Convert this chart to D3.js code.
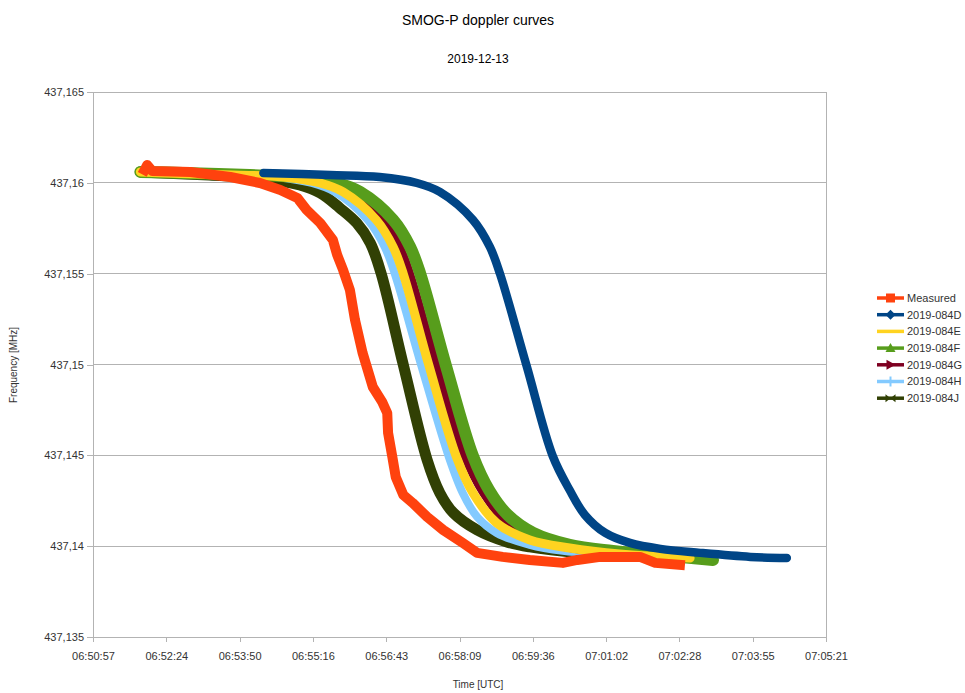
<!DOCTYPE html>
<html>
<head>
<meta charset="utf-8">
<script src="https://cdn.jsdelivr.net/npm/d3@7/dist/d3.min.js"></script>
<style>
  body { margin: 0; background: #ffffff; }
  text { font-family: "Liberation Sans", Arial, sans-serif; }
</style>
</head>
<body>
<svg id="chart" width="965" height="693"></svg>
<script>
// ---- chart text ----
const chartTitle = "SMOG-P doppler curves";
const chartSubtitle = "2019-12-13";
const xAxisTitle = "Time [UTC]";
const yAxisTitle = "Frequency [MHz]";

// ---- axes (time axis in fractions of a day, like the spreadsheet) ----
const xAxisStartDays = 0.285384;
const xAxisStepDays = 0.001;
const xTickLabels = ["06:50:57", "06:52:24", "06:53:50", "06:55:16", "06:56:43", "06:58:09",
                     "06:59:36", "07:01:02", "07:02:28", "07:03:55", "07:05:21"];
const yTickValues = [437.135, 437.14, 437.145, 437.15, 437.155, 437.16, 437.165];
const yTickLabels = ["437,135", "437,14", "437,145", "437,15", "437,155", "437,16", "437,165"];

// ---- series: [UTC time, frequency MHz] ----
const seriesNames = ["Measured", "2019-084D", "2019-084E", "2019-084F", "2019-084G", "2019-084H", "2019-084J"];

const measured = [
  ["06:51:58", 437.16071], ["06:52:01", 437.16098], ["06:52:07", 437.16065], ["06:52:52", 437.16060],
  ["06:53:39", 437.16032], ["06:54:14", 437.15999], ["06:54:38", 437.15961], ["06:54:58", 437.15917],
  ["06:55:09", 437.15851], ["06:55:25", 437.15779], ["06:55:40", 437.15685], ["06:55:45", 437.15603],
  ["06:55:52", 437.15520], ["06:56:00", 437.15410], ["06:56:06", 437.15245], ["06:56:15", 437.15063],
  ["06:56:27", 437.14876], ["06:56:38", 437.14794], ["06:56:44", 437.14733], ["06:56:45", 437.14623],
  ["06:56:50", 437.14491], ["06:56:54", 437.14381], ["06:57:03", 437.14282], ["06:57:14", 437.14238],
  ["06:57:31", 437.14161], ["06:57:50", 437.14089], ["06:58:13", 437.14018], ["06:58:30", 437.13963],
  ["06:59:00", 437.13941], ["06:59:32", 437.13924], ["07:00:11", 437.13908], ["07:00:28", 437.13924],
  ["07:00:55", 437.13941], ["07:01:42", 437.13941], ["07:02:00", 437.13908], ["07:02:29", 437.13897]
];

const sat084D = [
  ["06:54:18", 437.16054], ["06:55:37", 437.16043], ["06:56:35", 437.16032], ["06:57:19", 437.15999],
  ["06:57:46", 437.15950], ["06:58:25", 437.15796], ["06:58:45", 437.15647], ["06:58:57", 437.15498],
  ["06:59:28", 437.14997], ["06:59:59", 437.14497], ["07:00:19", 437.14309], ["07:00:37", 437.14172],
  ["07:01:01", 437.14073], ["07:01:30", 437.14018], ["07:02:06", 437.13985], ["07:02:53", 437.13963],
  ["07:03:52", 437.13941], ["07:04:35", 437.13935]
];

const sat084E = [
  ["06:51:53", 437.16060], ["06:52:23", 437.16054], ["06:53:42", 437.16043], ["06:54:41", 437.16032],
  ["06:55:25", 437.15999], ["06:55:52", 437.15950], ["06:56:31", 437.15796], ["06:56:51", 437.15647],
  ["06:57:03", 437.15498], ["06:57:33", 437.14997], ["06:58:06", 437.14486], ["06:58:25", 437.14293],
  ["06:58:53", 437.14128], ["06:59:32", 437.14034], ["07:00:19", 437.13990], ["07:01:18", 437.13957],
  ["07:02:41", 437.13935]
];

const sat084F = [
  ["06:51:53", 437.16060], ["06:52:43", 437.16054], ["06:54:02", 437.16043], ["06:55:01", 437.16032],
  ["06:55:45", 437.15999], ["06:56:12", 437.15950], ["06:56:51", 437.15796], ["06:57:11", 437.15647],
  ["06:57:23", 437.15498], ["06:57:53", 437.14997], ["06:58:25", 437.14497], ["06:58:44", 437.14309],
  ["06:59:06", 437.14172], ["06:59:36", 437.14073], ["07:00:19", 437.14007], ["07:01:10", 437.13974],
  ["07:02:17", 437.13946], ["07:03:08", 437.13924]
];

const sat084G = [
  ["06:51:53", 437.16060], ["06:52:32", 437.16054], ["06:53:50", 437.16043], ["06:54:49", 437.16032],
  ["06:55:33", 437.15999], ["06:56:00", 437.15950], ["06:56:39", 437.15796], ["06:56:59", 437.15647],
  ["06:57:11", 437.15498], ["06:57:42", 437.14997], ["06:58:15", 437.14497], ["06:58:37", 437.14293],
  ["06:59:05", 437.14128], ["06:59:38", 437.14034], ["07:00:19", 437.13990], ["07:01:18", 437.13957],
  ["07:02:06", 437.13941]
];

const sat084H = [
  ["06:51:53", 437.16060], ["06:52:14", 437.16054], ["06:53:33", 437.16043], ["06:54:32", 437.16032],
  ["06:55:15", 437.15999], ["06:55:42", 437.15950], ["06:56:21", 437.15796], ["06:56:41", 437.15647],
  ["06:56:53", 437.15498], ["06:57:24", 437.14997], ["06:57:57", 437.14486], ["06:58:13", 437.14293],
  ["06:58:30", 437.14161], ["06:58:53", 437.14073], ["06:59:32", 437.14007], ["07:00:11", 437.13974],
  ["07:01:42", 437.13941]
];

const sat084J = [
  ["06:51:53", 437.16060], ["06:53:14", 437.16043], ["06:54:13", 437.16027], ["06:55:01", 437.15988],
  ["06:55:25", 437.15944], ["06:55:48", 437.15862], ["06:56:08", 437.15779], ["06:56:24", 437.15669],
  ["06:56:37", 437.15498], ["06:57:03", 437.14997], ["06:57:31", 437.14475], ["06:57:46", 437.14293],
  ["06:58:02", 437.14183], ["06:58:30", 437.14089], ["06:59:05", 437.14023], ["06:59:32", 437.13996],
  ["07:00:31", 437.13963], ["07:01:24", 437.13946]
];

const seriesData = [measured, sat084D, sat084E, sat084F, sat084G, sat084H, sat084J];

// ---- styling ----
const seriesColors = ["#ff420e", "#004586", "#ffd320", "#579d1c", "#7e0021", "#83caff", "#314004"];
const seriesWidths = [10, 8.5, 9, 12, 8, 8, 11];
const seriesMarkers = ["square", "diamond", "none", "triangle", "arrow", "plus", "cross"];

const plot = { left: 93, right: 826, top: 92, bottom: 637 };
const gridColor = "#b3b3b3";
const textColor = "#333333";

const toSeconds = s => {
  const [h, m, sec] = s.split(":").map(Number);
  return h * 3600 + m * 60 + sec;
};

const svg = d3.select("#chart");

const xStart = xAxisStartDays * 86400;
const xStep = xAxisStepDays * 86400;
const xTickValues = xTickLabels.map((_, i) => xStart + i * xStep);

const x = d3.scaleLinear()
  .domain([xStart, xStart + xStep * (xTickLabels.length - 1)])
  .range([plot.left, plot.right]);

const y = d3.scaleLinear()
  .domain([yTickValues[0], yTickValues[yTickValues.length - 1]])
  .range([plot.bottom, plot.top]);

// titles
svg.append("text").attr("x", 478).attr("y", 25).attr("text-anchor", "middle")
  .attr("font-size", 14).attr("fill", "#000").text(chartTitle);
svg.append("text").attr("x", 478).attr("y", 63).attr("text-anchor", "middle")
  .attr("font-size", 12).attr("fill", "#000").text(chartSubtitle);

// horizontal grid
svg.append("g")
  .selectAll("line").data(yTickValues).join("line")
  .attr("x1", plot.left).attr("x2", plot.right)
  .attr("y1", d => y(d)).attr("y2", d => y(d))
  .attr("stroke", gridColor).attr("stroke-width", 1)
  .attr("shape-rendering", "crispEdges");

// frame on the right side
svg.append("line")
  .attr("x1", plot.right).attr("x2", plot.right)
  .attr("y1", plot.top).attr("y2", plot.bottom)
  .attr("stroke", gridColor).attr("shape-rendering", "crispEdges");

// y axis
const yAxis = d3.axisLeft(y)
  .tickValues(yTickValues)
  .tickFormat((d, i) => yTickLabels[i])
  .tickSize(6).tickSizeOuter(0).tickPadding(3);
const gy = svg.append("g").attr("transform", `translate(${plot.left},0)`).call(yAxis);
gy.select(".domain").attr("stroke", gridColor).attr("shape-rendering", "crispEdges");
gy.selectAll(".tick line").attr("stroke", gridColor).attr("shape-rendering", "crispEdges");
gy.selectAll(".tick text").attr("font-size", 11).attr("fill", textColor)
  .attr("font-family", "Liberation Sans, Arial, sans-serif");

// x axis
const xAxis = d3.axisBottom(x)
  .tickValues(xTickValues)
  .tickFormat((d, i) => xTickLabels[i])
  .tickSize(5).tickSizeOuter(0).tickPadding(10);
const gx = svg.append("g").attr("transform", `translate(0,${plot.bottom})`).call(xAxis);
gx.select(".domain").attr("stroke", gridColor).attr("shape-rendering", "crispEdges");
gx.selectAll(".tick line").attr("stroke", gridColor).attr("shape-rendering", "crispEdges");
gx.selectAll(".tick text").attr("font-size", 11).attr("fill", textColor)
  .attr("font-family", "Liberation Sans, Arial, sans-serif");

// axis titles
svg.append("text").attr("x", 478).attr("y", 688).attr("text-anchor", "middle")
  .attr("font-size", 10).attr("fill", textColor).text(xAxisTitle);
svg.append("text").attr("transform", "translate(17,365) rotate(-90)").attr("text-anchor", "middle")
  .attr("font-size", 10).attr("fill", textColor).text(yAxisTitle);

// curves: later satellites first, measured on top
const lineMeasured = d3.line()
  .x(d => x(toSeconds(d[0]))).y(d => y(d[1]));
const lineModel = d3.line()
  .x(d => x(toSeconds(d[0]))).y(d => y(d[1]))
  .curve(d3.curveCatmullRom.alpha(0.5));

const drawOrder = [6, 5, 4, 3, 2, 1, 0];
const curves = svg.append("g");
drawOrder.forEach(i => {
  curves.append("path")
    .datum(seriesData[i])
    .attr("fill", "none")
    .attr("stroke", seriesColors[i])
    .attr("stroke-width", seriesWidths[i])
    .attr("stroke-linejoin", "round")
    .attr("stroke-linecap", i === 0 ? "square" : "round")
    .attr("d", i === 0 ? lineMeasured : lineModel);
});

// legend
const legend = svg.append("g").attr("transform", "translate(877,298)");
const markerPath = (kind) => {
  switch (kind) {
    case "square":   return "M-4.5,-4.5h9v9h-9z";
    case "diamond":  return "M0,-5L5,0L0,5L-5,0z";
    case "triangle": return "M0,-5L5,4H-5z";
    case "arrow":    return "M-4,-5L5,0L-4,5z";
    case "plus":     return "M-1,-5h2v10h-2z";
    case "cross":    return "M-5,-4L0,0L-5,4zM5,-4L0,0L5,4z";
    default:         return null;
  }
};
seriesNames.forEach((name, i) => {
  const g = legend.append("g").attr("transform", `translate(0,${i * 16.7})`);
  g.append("line").attr("x1", 0).attr("x2", 27).attr("y1", 0).attr("y2", 0)
    .attr("stroke", seriesColors[i]).attr("stroke-width", 3.5);
  const p = markerPath(seriesMarkers[i]);
  if (p) g.append("path").attr("d", p).attr("transform", "translate(13.5,0)")
    .attr("fill", seriesColors[i]);
  g.append("text").attr("x", 30).attr("y", 0).attr("dy", "0.35em")
    .attr("font-size", 11).attr("fill", textColor).text(name);
});
</script>
</body>
</html>
